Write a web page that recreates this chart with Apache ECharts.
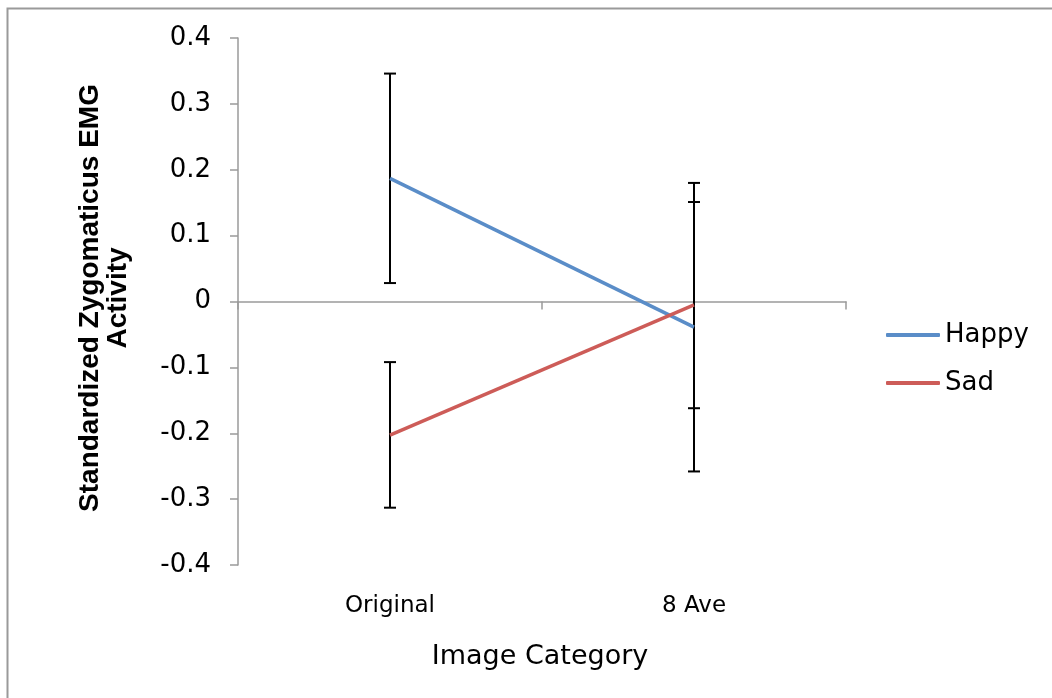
<!DOCTYPE html>
<html>
<head>
<meta charset="utf-8">
<script src="https://cdn.jsdelivr.net/npm/echarts@6/dist/echarts.min.js"></script>
<style>
  html, body { margin: 0; padding: 0; background: #fff; }
  #chart { width: 1052px; height: 698px; }
</style>
</head>
<body>
<div id="chart"></div>
<script>
  // data
  var categories = ['Original', '8 Ave'];
  var happyMean = [0.187, -0.039];
  var happyLow  = [0.028, -0.258];
  var happyHigh = [0.346, 0.180];
  var sadMean   = [-0.203, -0.005];
  var sadLow    = [-0.313, -0.162];
  var sadHigh   = [-0.092, 0.151];

  var font = 'DejaVu Sans';
  var axisGrey = '#9a9a9a';

  function errData(low, high) {
    var d = [];
    for (var i = 0; i < categories.length; i++) {
      d.push([i, low[i], high[i]]);
    }
    return d;
  }

  // whisker with caps
  function renderErr(params, api) {
    var x = api.value(0);
    var lo = api.coord([x, api.value(1)]);
    var hi = api.coord([x, api.value(2)]);
    var w = 6;
    var st = { stroke: '#000', lineWidth: 2 };
    return {
      type: 'group',
      children: [
        { type: 'line', shape: { x1: lo[0], y1: lo[1], x2: hi[0], y2: hi[1] }, style: st },
        { type: 'line', shape: { x1: hi[0] - w, y1: hi[1], x2: hi[0] + w, y2: hi[1] }, style: st },
        { type: 'line', shape: { x1: lo[0] - w, y1: lo[1], x2: lo[0] + w, y2: lo[1] }, style: st }
      ]
    };
  }

  var chart = echarts.init(document.getElementById('chart'));
  var option = {
    animation: false,
    grid: { left: 238, right: 206, top: 38, bottom: 133 },
    legend: {
      orient: 'vertical',
      left: 881,
      top: 317,
      itemGap: 22,
      itemWidth: 54,
      itemHeight: 4,
      icon: 'roundRect',
      textStyle: { fontFamily: font, fontSize: 26, color: '#000' },
      data: ['Happy', 'Sad']
    },
    xAxis: [{
      type: 'category',
      data: categories,
      boundaryGap: true,
      axisLine: { onZero: true, lineStyle: { color: axisGrey, width: 1.5 } },
      axisTick: { show: true, length: 8, lineStyle: { color: axisGrey, width: 1.5 } },
      axisLabel: { show: false }
    }, {
      type: 'category',
      data: categories,
      position: 'bottom',
      axisLine: { show: false, onZero: false },
      axisTick: { show: false },
      axisLabel: { margin: 30, fontFamily: font, fontSize: 23, color: '#000' }
    }],
    yAxis: {
      type: 'value',
      min: -0.4,
      max: 0.4,
      interval: 0.1,
      splitLine: { show: false },
      axisLine: { show: true, onZero: false, lineStyle: { color: axisGrey, width: 1.5 } },
      axisTick: { show: true, length: 8, lineStyle: { color: axisGrey, width: 1.5 } },
      axisLabel: {
        margin: 27,
        fontFamily: font,
        fontSize: 26,
        color: '#000',
        formatter: function (v) { return String(Math.round(v * 10) / 10); }
      }
    },
    series: [{
      name: 'Happy',
      type: 'line',
      data: happyMean,
      showSymbol: false,
      color: '#5A8DC8',
      lineStyle: { width: 3.5 }
    }, {
      name: 'Sad',
      type: 'line',
      data: sadMean,
      showSymbol: false,
      color: '#CD5C58',
      lineStyle: { width: 3.5 }
    }, {
      type: 'custom',
      renderItem: renderErr,
      data: errData(happyLow, happyHigh),
      z: 3
    }, {
      type: 'custom',
      renderItem: renderErr,
      data: errData(sadLow, sadHigh),
      z: 3
    }],
    graphic: [{
      type: 'rect',
      shape: { x: 7.5, y: 8.5, width: 1100, height: 800 },
      style: { fill: null, stroke: '#9a9a9a', lineWidth: 2 },
      silent: true
    }, {
      type: 'text',
      x: 104,
      y: 298,
      rotation: Math.PI / 2,
      style: {
        text: 'Standardized Zygomaticus EMG\nActivity',
        font: 'bold 28px "Liberation Sans"',
        lineHeight: 28,
        fill: '#000',
        align: 'center',
        verticalAlign: 'middle'
      }
    }, {
      type: 'text',
      x: 540,
      y: 657,
      style: {
        text: 'Image Category',
        font: '27px "DejaVu Sans"',
        fill: '#000',
        align: 'center',
        verticalAlign: 'middle'
      }
    }]
  };
  chart.setOption(option);
</script>
</body>
</html>
